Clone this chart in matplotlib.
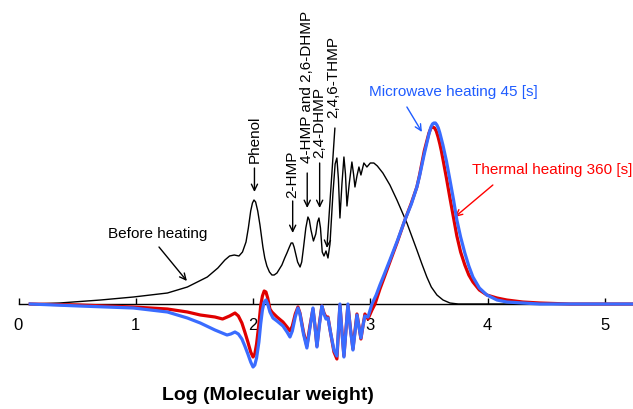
import matplotlib
matplotlib.use("Agg")
import matplotlib.pyplot as plt

plt.rcParams['font.family'] = ['Liberation Sans', 'DejaVu Sans']

# Log(molecular weight) and relative intensity
before_x = [0.10, 0.35, 0.70, 0.98, 1.27, 1.44, 1.61, 1.70, 1.76, 1.80, 1.84, 1.88, 1.91, 1.94,
            1.96, 1.98, 1.995, 2.008, 2.022, 2.04, 2.059, 2.084, 2.10, 2.118, 2.14, 2.161, 2.18,
            2.204, 2.246, 2.27, 2.289, 2.31, 2.325, 2.338, 2.35, 2.36, 2.38, 2.401, 2.415, 2.43,
            2.45, 2.468, 2.48, 2.494, 2.515, 2.535, 2.55, 2.562, 2.575, 2.59, 2.605, 2.622, 2.639,
            2.656, 2.681, 2.70, 2.715, 2.728, 2.741, 2.758, 2.775, 2.788, 2.801, 2.82, 2.843,
            2.857, 2.869, 2.886, 2.903, 2.92, 2.945, 2.971, 3.0, 3.03, 3.06, 3.107, 3.167, 3.227,
            3.312, 3.397, 3.44, 3.482, 3.52, 3.568, 3.62, 3.679, 3.75, 4.50]
before_y = [0, 1, 4, 7, 11, 17, 27, 36, 44, 48, 49, 48, 52, 62,
            76, 93, 101, 104, 102, 93, 79, 57, 46, 38, 32, 29, 29,
            31, 39, 46, 51, 57, 61, 61, 57, 52, 42, 37, 42, 56,
            76, 87, 84, 74, 63, 70, 82, 86, 76, 52, 48, 53, 46,
            60, 110, 140, 146, 125, 86, 120, 147, 130, 98, 120, 142,
            130, 117, 128, 137, 129, 141, 137, 141, 141, 138, 131, 119, 104,
            81, 54, 40, 27, 17, 9, 4, 1, 0, 0]

mw_x = [0.10, 0.52, 0.98, 1.27, 1.44, 1.55, 1.675, 1.778, 1.81, 1.846, 1.875, 1.905, 1.93,
        1.956, 1.98, 2.0, 2.015, 2.03, 2.05, 2.065, 2.08, 2.095, 2.11, 2.125, 2.144, 2.17,
        2.204, 2.255, 2.29, 2.315, 2.335, 2.36, 2.383, 2.40, 2.43, 2.459, 2.485, 2.511, 2.528,
        2.545, 2.565, 2.587, 2.605, 2.622, 2.639, 2.66, 2.69, 2.715, 2.728, 2.741, 2.758,
        2.775, 2.792, 2.809, 2.83, 2.852, 2.87, 2.886, 2.903, 2.92, 2.937, 2.954, 2.98, 3.014,
        3.05, 3.082, 3.12, 3.167, 3.23, 3.295, 3.35, 3.397, 3.42, 3.44, 3.46, 3.482, 3.50,
        3.517, 3.53, 3.542, 3.555, 3.568, 3.58, 3.593, 3.606, 3.619, 3.649, 3.679, 3.71, 3.738,
        3.77, 3.806, 3.84, 3.875, 3.93, 3.994, 4.08, 4.164, 4.30, 4.446, 5.24]
mw_y = [0, -2, -4, -8, -14, -19, -26, -31, -30, -28, -30, -35, -42,
        -50, -58, -63, -61, -54, -38, -20, -6, 2, 4, 0, -8, -14,
        -17, -22, -28, -33, -27, -13, -4, -10, -30, -44, -24, -4, -22,
        -43, -22, -2, -10, -15, -14, -28, -46, -52, -26, 0, -28,
        -53, -27, 0, -25, -46, -28, -11, -23, -34, -22, -12, -13, 0,
        9, 19, 30, 44, 63, 84, 100, 117, 128, 139, 150, 161, 170,
        177, 180, 181, 181, 179, 176, 171, 165, 159, 143, 124, 104, 84,
        67, 51, 38, 27, 16, 9, 4, 2, 1, 0, 0]

th_x = [0.10, 0.52, 0.98, 1.27, 1.44, 1.55, 1.675, 1.74, 1.80, 1.846, 1.875, 1.905, 1.93,
        1.956, 1.98, 2.0, 2.015, 2.03, 2.05, 2.065, 2.08, 2.095, 2.11, 2.125, 2.144, 2.161,
        2.204, 2.255, 2.29, 2.315, 2.335, 2.36, 2.383, 2.40, 2.43, 2.459, 2.485, 2.511, 2.528,
        2.545, 2.565, 2.587, 2.605, 2.622, 2.639, 2.66, 2.69, 2.715, 2.728, 2.741, 2.758,
        2.775, 2.792, 2.809, 2.83, 2.852, 2.87, 2.886, 2.903, 2.92, 2.937, 2.954, 2.98, 3.014,
        3.04, 3.082, 3.12, 3.167, 3.23, 3.295, 3.35, 3.397, 3.42, 3.44, 3.46, 3.482, 3.50,
        3.517, 3.534, 3.548, 3.562, 3.578, 3.593, 3.606, 3.619, 3.649, 3.679, 3.71, 3.738,
        3.77, 3.806, 3.84, 3.875, 3.93, 3.994, 4.08, 4.164, 4.30, 4.446, 4.70, 5.24]
th_y = [0, -1, -3, -5, -8, -11, -13, -15, -12, -9, -12, -19, -28,
        -38, -48, -53, -50, -40, -20, -2, 8, 13, 12, 6, -5, -8,
        -13, -18, -23, -27, -22, -10, -3, -9, -28, -42, -22, -5, -22,
        -42, -20, -2, -9, -13, -13, -28, -48, -55, -28, -1, -27,
        -52, -26, -1, -24, -45, -26, -10, -22, -35, -22, -10, -15, -6,
        0, 15, 27, 42, 62, 84, 101, 117, 129, 141, 153, 163, 171,
        176, 177, 176, 173, 167, 160, 153, 145, 126, 106, 86, 68,
        52, 39, 29, 22, 14, 9, 6, 4, 2, 1, 0, 0]

x_ticks = [0, 1, 2, 3, 4, 5]

fig = plt.figure(figsize=(6.33, 4.09), dpi=100)
ax = fig.add_axes([18.5 / 633, 0, 1 - 18.5 / 633, 1])
ax.set_xlim(0, 5.24)
ax.set_ylim(-105, 304)

ax.plot(before_x, before_y, color='black', lw=1.0, zorder=3)
ax.plot(th_x, th_y, color='#e00000', lw=2.3, zorder=4)
ax.plot(mw_x, mw_y, color='#3a6cff', lw=2.3, zorder=5)

for s in ['left', 'right', 'top']:
    ax.spines[s].set_visible(False)
ax.spines['bottom'].set_position(('data', 0))
ax.spines['bottom'].set_linewidth(1.0)
ax.set_yticks([])
ax.set_xticks(x_ticks)
ax.set_xticklabels([str(t) for t in x_ticks])
ax.tick_params(axis='x', direction='in', length=4, width=1, labelsize=12, pad=10)

arr = dict(arrowstyle='->,head_length=0.45,head_width=0.22', color='black', lw=1.0,
           shrinkA=0, shrinkB=0)
fs = 11

# peak labels (rotated) with downward arrows
labels = [("Phenol", 2.012, 141, 136, 112),
          ("2-HMP", 2.338, 106, 103, 71),
          ("4-HMP and 2,6-DHMP", 2.462, 141, 131, 96),
          ("2,4-DHMP", 2.568, 146, 141, 96)]
for txt, x, ty, a0, a1 in labels:
    ax.text(x, ty, txt, rotation=90, ha='center', va='bottom', fontsize=fs)
    ax.annotate('', xy=(x, a1), xytext=(x, a0), arrowprops=arr)

ax.text(2.685, 186, "2,4,6-THMP", rotation=90, ha='center', va='bottom', fontsize=fs)
ax.annotate('', xy=(2.63, 56), xytext=(2.698, 176), arrowprops=arr)

ax.text(1.189, 70, "Before heating", ha='center', va='center', fontsize=fs)
ax.annotate('', xy=(1.436, 23), xytext=(1.198, 57), arrowprops=arr)

ax.text(3.708, 212, "Microwave heating 45 [s]", ha='center', va='center', fontsize=fs,
        color='#1f5cff')
ax.annotate('', xy=(3.44, 172), xytext=(3.312, 197),
            arrowprops=dict(arr, color='#1f5cff'))

ax.text(4.552, 134, "Thermal heating 360 [s]", ha='center', va='center', fontsize=fs,
        color='#ff0000')
ax.annotate('', xy=(3.721, 87), xytext=(4.045, 119),
            arrowprops=dict(arr, color='#ff0000'))

fig.text(268 / 633, 1 - 395 / 409, "Log (Molecular weight)", ha='center', va='center',
         fontsize=14, fontweight='bold')

fig.savefig('out.png', dpi=100)
